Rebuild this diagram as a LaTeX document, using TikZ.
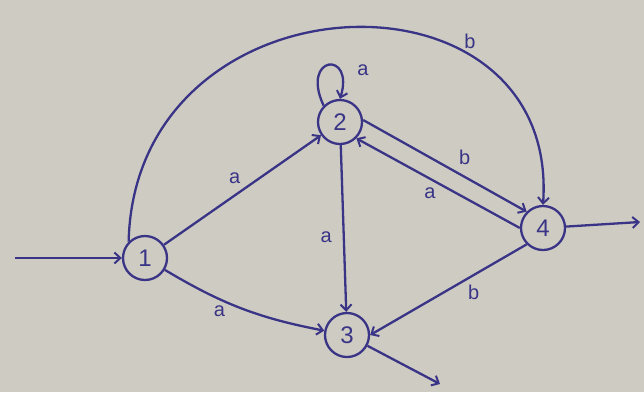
\documentclass[tikz,border=0pt]{standalone}
\usepackage{fontspec}
\setmainfont{Liberation Sans}
\usetikzlibrary{arrows.meta}
\definecolor{paper}{RGB}{206,204,194}
\definecolor{ink}{RGB}{58,52,135}
\begin{document}
\begin{tikzpicture}[x=1pt,y=-1pt,
  state/.style={circle,draw=ink,line width=2.3pt,minimum size=44pt,inner sep=0pt,text=ink,font=\fontsize{24}{26}\selectfont},
  edge/.style={draw=ink,line width=2.3pt,-{Straight Barb[length=6pt,width=11pt,line width=2pt]}},
  lbl/.style={text=ink,font=\fontsize{20}{22}\selectfont,inner sep=1pt}]
\fill[paper] (0,0) rectangle (644,392);
\useasboundingbox (0,0) rectangle (644,392);
\node[state] (s1) at (145,258) {1};
\node[state] (s2) at (340,122) {2};
\node[state] (s3) at (347,335) {3};
\node[state] (s4) at (543,228) {4};
\coordinate (in) at (15,258);
\coordinate (f4) at (640,222);
\coordinate (f3) at (440,384);
\draw[edge] (in) -- (s1);
\draw[edge] (s4) -- (f4);
\draw[edge] (s3) -- (f3);
\draw[edge] (s1) -- node[lbl,above=10pt,pos=0.45] {a} (s2);
\draw[edge] (s1) to[bend right=10] node[lbl,below=4pt,pos=0.35] {a} (s3);
\draw[edge] (s2) -- node[lbl,left=10pt,pos=0.55] {a} (s3);
\draw[edge] (s2.east) ++(0,-2) coordinate (s2e) (s2e) -- node[lbl,above right=4pt,pos=0.55] {b} (s4.north west);
\draw[edge] (s4.west) -- node[lbl,below=7pt,pos=0.55] {a} (s2.south east);
\draw[edge] (s4.south west) -- node[lbl,below right=2pt,pos=0.4] {b} (s3.east);
\draw[edge] (s1.north west) .. controls (135,-30) and (560,-45) .. node[lbl,pos=0.7,above right=0pt] {b} (s4.north);
\draw[edge] (s2.north west) .. controls (300,55) and (355,50) .. (s2.north);
\node[lbl] (la) at (363,70) {a};
\end{tikzpicture}
\end{document}
